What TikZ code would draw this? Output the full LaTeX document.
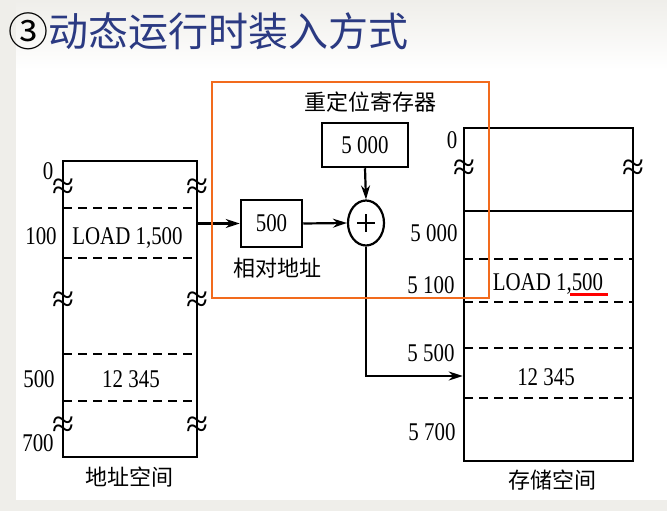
\documentclass[tikz,border=0pt]{standalone}
\usepackage{fontspec}
\setmainfont{Liberation Serif}
\newfontfamily\cjk{Noto Sans CJK SC}
\newfontfamily\numf[FakeStretch=0.82]{Liberation Serif}
\usetikzlibrary{arrows.meta,shapes.geometric}
\definecolor{titleblue}{RGB}{43,58,130}
\definecolor{frameorange}{RGB}{242,107,29}
\definecolor{bggray}{RGB}{239,238,234}
\tikzset{
  memline/.style={line width=2.5pt},
  dashline/.style={line width=2.5pt, dash pattern=on 9pt off 6pt},
  boxn/.style={draw, line width=2.5pt, inner sep=0pt},
  arr/.style={line width=2.2pt, -{Stealth[length=14pt,width=9pt]}},
  numtxt/.style={font=\numf\fontsize{25.5}{25.5}\selectfont, inner sep=0pt},
  cjktxt/.style={font=\cjk\fontsize{22}{22}\selectfont, inner sep=0pt},
  sq/.style={font=\fontsize{40}{40}\selectfont, inner sep=0pt}
}
\begin{document}
\begin{tikzpicture}[x=1pt,y=-1pt]
\useasboundingbox (0,0) rectangle (667,511);
\fill[bggray] (0,0) rectangle (667,511);
\fill[white] (16,70) rectangle (667,500);
\shade[top color=bggray, bottom color=white] (16,0) rectangle (667,70);

% title
\node[anchor=west, inner sep=0pt, font=\cjk\fontsize{40}{40}\selectfont] (title) at (8,31)
  {③\textcolor{titleblue}{动态运行时装入方式}};

% left memory box (address space)
\node[boxn, minimum width=134pt, minimum height=296pt] (lb) at (130,309) {};
\draw[dashline] (63,208) -- (197,208);
\draw[dashline] (63,258) -- (197,258);
\draw[dashline] (63,354) -- (197,354);
\draw[dashline] (63,401) -- (197,401);
\node[sq] (s1) at (63,189) {≈};
\node[sq] (s2) at (197,189) {≈};
\node[sq] (s3) at (63,302) {≈};
\node[sq] (s4) at (197,302) {≈};
\node[sq] (s5) at (63,427) {≈};
\node[sq] (s6) at (197,427) {≈};
\node[numtxt] (l0) at (48,171) {0};
\node[numtxt] (l100) at (41,236) {100};
\node[numtxt] (l500) at (39,379) {500};
\node[numtxt] (l700) at (38,443) {700};
\node[numtxt, text depth=0pt] (lload) at (127.5,236) {LOAD 1,500};
\node[numtxt] (ldata) at (131,379) {12 345};
\node[cjktxt] (lcap) at (129,477) {地址空间};

% right memory box (storage space)
\node[boxn, minimum width=169pt, minimum height=333pt] (rb) at (548.5,294.5) {};
\draw[memline] (464,211) -- (633,211);
\draw[dashline] (464,259) -- (633,259);
\draw[dashline] (464,302) -- (633,302);
\draw[dashline] (464,348) -- (633,348);
\draw[dashline] (464,398) -- (633,398);
\node[sq] (s7) at (464,170) {≈};
\node[sq] (s8) at (633,170) {≈};
\node[numtxt] (r0) at (452,140) {0};
\node[numtxt] (r5000) at (434,233) {5 000};
\node[numtxt] (r5100) at (431,285) {5 100};
\node[numtxt] (r5500) at (431,353) {5 500};
\node[numtxt] (r5700) at (432,432) {5 700};
\node[numtxt, text depth=0pt] (rload) at (548,282) {LOAD 1,500};
\node[numtxt] (rdata) at (546,377) {12 345};
\node[cjktxt] (rcap) at (552,480) {存储空间};
\draw[red, line width=3.5pt] (570,294.5) -- (608,294.5);

% relocation part
\node[cjktxt] (regcap) at (370,102) {重定位寄存器};
\node[boxn, minimum width=86pt, minimum height=44pt] (reg) at (365,145) {};
\node[numtxt] (regv) at (reg) {5 000};
\node[boxn, minimum width=61pt, minimum height=47pt] (rel) at (271.5,223.5) {};
\node[numtxt] (relv) at (rel) {500};
\node[cjktxt] (relcap) at (277,268) {相对地址};
\node[draw, ellipse, line width=2.2pt, minimum width=36pt, minimum height=45pt, inner sep=0pt] (add) at (366,223) {};
\draw[line width=1.3pt] (add.center) ++(-9,0) -- ++(18,0);
\draw[line width=1.3pt] (add.center) ++(0,-9) -- ++(0,18);

\draw[arr] (lb.east |- rel) -- (rel.west);
\draw[arr] (rel.east) -- (add.west);
\draw[arr] (reg.south) -- (add.north);
\path (rb.west) ++(0,81.5) coordinate (tgt);
\draw[arr] (add.south) |- (tgt);

% orange frame
\draw[frameorange, line width=2.5pt] (212,82) rectangle (489,298);
\end{tikzpicture}
\end{document}
